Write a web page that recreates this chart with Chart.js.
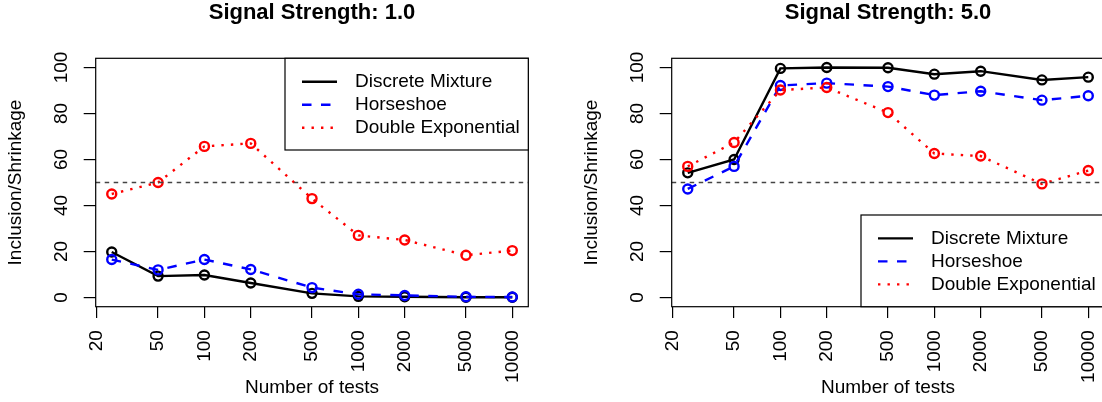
<!DOCTYPE html>
<html>
<head>
<meta charset="utf-8">
<script src="https://cdn.jsdelivr.net/npm/chart.js@4"></script>
<style>
  html, body { margin: 0; padding: 0; background: #fff; overflow: hidden; width: 1102px; height: 402px; }
  .panel { position: absolute; top: 0; width: 551px; height: 402px; }
</style>
</head>
<body>
<div class="panel" style="left:0px"><canvas id="chart1" width="551" height="402"></canvas></div>
<div class="panel" style="left:576px"><canvas id="chart2" width="551" height="402"></canvas></div>
<script>
// Number of tests on the x axis
const nTests = [25, 50, 100, 200, 500, 1000, 2000, 5000, 10000];
const xTicks = [20, 50, 100, 200, 500, 1000, 2000, 5000, 10000];
const yTicks = [0, 20, 40, 60, 80, 100];

// Signal strength 1.0
const s1Discrete  = [19.8, 9.3, 9.8, 6.3, 1.8, 0.5, 0.3, 0.1, 0.1];
const s1Horseshoe = [16.5, 12, 16.5, 12.2, 4.3, 1.4, 0.9, 0.3, 0.2];
const s1DoubleExp = [45, 50, 65.7, 67, 43, 27, 25, 18.4, 20.4];

// Signal strength 5.0
const s5Discrete  = [54.2, 60, 99.6, 100, 99.9, 97.1, 98.4, 94.6, 95.8];
const s5Horseshoe = [47.2, 57, 92.2, 93.2, 91.7, 88, 89.7, 85.8, 87.7];
const s5DoubleExp = [57, 67.4, 90.2, 91.3, 80.4, 62.6, 61.5, 49.4, 55.2];

const refLevel = 50;
const FONT = 'Liberation Sans, Arial, Helvetica, sans-serif';

// R-style decorations: box, title, rotated y labels, 50% line, legend
const rDecor = {
    id: 'rDecor',
    afterDatasetsDraw(chart, args, opts) {
        const ctx = chart.ctx;
        const a = chart.chartArea;
        const y = chart.scales.y;

        ctx.save();
        // reference line
        const yr = y.getPixelForValue(refLevel);
        ctx.strokeStyle = '#444444';
        ctx.lineWidth = 1.3;
        ctx.setLineDash([4.5, 4.5]);
        ctx.beginPath();
        ctx.moveTo(a.left, yr);
        ctx.lineTo(a.right, yr);
        ctx.stroke();
        ctx.setLineDash([]);

        // box
        ctx.strokeStyle = '#000';
        ctx.lineWidth = 1.2;
        ctx.strokeRect(a.left, a.top, a.right - a.left, a.bottom - a.top);

        // title
        ctx.fillStyle = '#000';
        ctx.font = 'bold 22px ' + FONT;
        ctx.textAlign = 'center';
        ctx.textBaseline = 'middle';
        ctx.fillText(opts.title, (a.left + a.right) / 2, 12.7);

        // y tick labels, parallel to axis
        ctx.font = '19px ' + FONT;
        yTicks.forEach(v => {
            const py = y.getPixelForValue(v);
            ctx.save();
            ctx.translate(a.left - 34, py);
            ctx.rotate(-Math.PI / 2);
            ctx.fillText(String(v), 0, 0);
            ctx.restore();
        });

        // legend
        const lw = 243.3, lh = 91.7;
        const L = a.right - lw;
        const T = opts.legend === 'topright' ? a.top : a.bottom - lh;
        ctx.fillStyle = '#fff';
        ctx.fillRect(L, T, lw, lh);
        ctx.strokeStyle = '#000';
        ctx.lineWidth = 1.2;
        ctx.strokeRect(L, T, lw, lh);
        const sets = chart.data.datasets.filter(d => d.label);
        sets.forEach((d, i) => {
            const ry = T + 23.4 + i * 23;
            ctx.strokeStyle = d.borderColor;
            ctx.lineWidth = d.borderWidth;
            ctx.setLineDash(d.borderDash || []);
            ctx.beginPath();
            ctx.moveTo(L + 17, ry);
            ctx.lineTo(L + 52, ry);
            ctx.stroke();
            ctx.setLineDash([]);
            ctx.fillStyle = '#000';
            ctx.textAlign = 'left';
            ctx.textBaseline = 'middle';
            ctx.fillText(d.label, L + 70, ry);
        });
        ctx.restore();
    }
};

function series(label, values, color, dash, order) {
    return {
        label: label,
        data: nTests.map((n, i) => ({ x: n, y: values[i] })),
        borderColor: color,
        borderWidth: 2.4,
        borderDash: dash,
        pointStyle: 'circle',
        pointRadius: 4.5,
        pointBorderWidth: 2.4,
        pointBorderColor: color,
        pointBackgroundColor: 'rgba(0,0,0,0)',
        tension: 0,
        fill: false,
        order: order
    };
}

function makeChart(id, title, legendPos, dm, hs, de) {
    const ctx = document.getElementById(id).getContext('2d');
    return new Chart(ctx, {
        type: 'line',
        data: {
            datasets: [
                series('Discrete Mixture', dm, '#000000', [], 3),
                series('Horseshoe', hs, '#0000FF', [9.5, 9.5], 2),
                series('Double Exponential', de, '#FF0000', [2.4, 7.1], 1)
            ]
        },
        options: {
            responsive: false,
            animation: false,
            devicePixelRatio: 1,
            layout: { padding: { left: 0, top: 58.3, right: 22.7, bottom: 0 } },
            plugins: {
                legend: { display: false },
                tooltip: { enabled: false },
                rDecor: { title: title, legend: legendPos }
            },
            scales: {
                x: {
                    type: 'logarithmic',
                    min: 19.667,
                    max: 12706,
                    afterBuildTicks: s => { s.ticks = xTicks.map(v => ({ value: v })); },
                    afterFit: s => { s.height = 95.3; },
                    grid: { drawOnChartArea: false, drawTicks: true, tickLength: 11.4, color: '#000', lineWidth: 1.2 },
                    border: { display: false },
                    ticks: {
                        autoSkip: false,
                        minRotation: 90,
                        maxRotation: 90,
                        padding: 12,
                        color: '#000',
                        font: { family: FONT, size: 19 },
                        callback: v => String(v)
                    },
                    title: {
                        display: true,
                        text: 'Number of tests',
                        color: '#000',
                        font: { family: FONT, size: 19 },
                        padding: { top: 0, bottom: 2.6 }
                    }
                },
                y: {
                    type: 'linear',
                    min: -4,
                    max: 104,
                    afterBuildTicks: s => { s.ticks = yTicks.map(v => ({ value: v })); },
                    afterFit: s => { s.width = 95.7; },
                    grid: { drawOnChartArea: false, drawTicks: true, tickLength: 12, color: '#000', lineWidth: 1.2 },
                    border: { display: false },
                    ticks: { display: false },
                    title: {
                        display: true,
                        text: 'Inclusion/Shrinkage',
                        color: '#000',
                        font: { family: FONT, size: 19 },
                        padding: { top: 4.6, bottom: 0 }
                    }
                }
            }
        },
        plugins: [rDecor]
    });
}

makeChart('chart1', 'Signal Strength: 1.0', 'topright', s1Discrete, s1Horseshoe, s1DoubleExp);
makeChart('chart2', 'Signal Strength: 5.0', 'bottomright', s5Discrete, s5Horseshoe, s5DoubleExp);
</script>
</body>
</html>
